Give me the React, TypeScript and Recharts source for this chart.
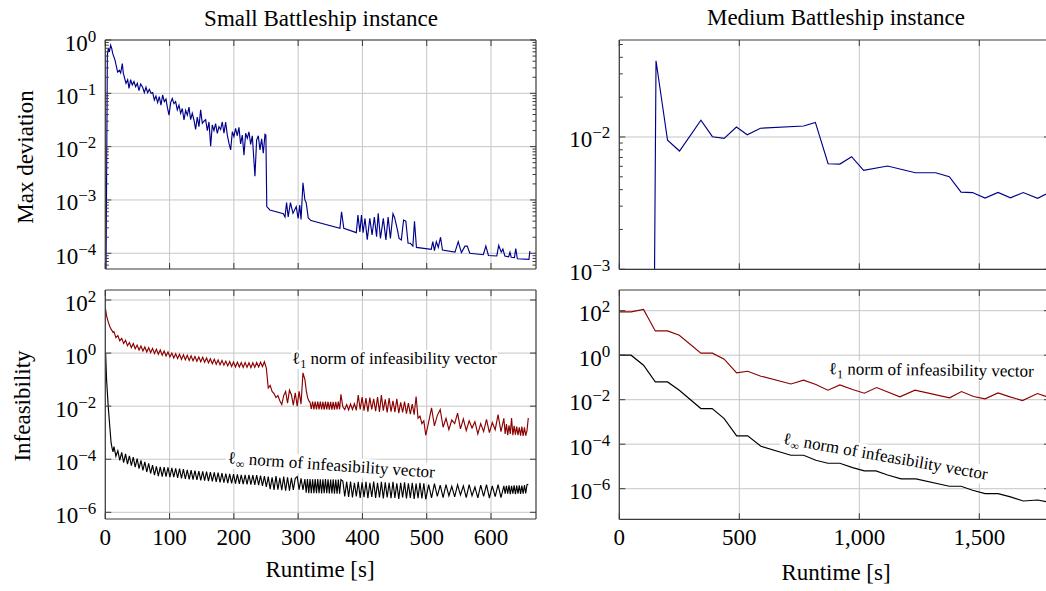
import { LineChart, Line, XAxis, YAxis, CartesianGrid } from 'recharts'

const FONT = '"Liberation Serif", "Times New Roman", "DejaVu Serif", serif'
const FRAME = '#3a3a3a'
const GRID = '#c6c6c6'
const BLUE = '#00008b'
const RED = '#8b0000'
const BLACK = '#000000'

// ---- small instance, max deviation ----
const smallDevTimes = [
  0.3, 3.2, 4.7, 6.3, 8.3, 9.9, 11.5, 15.1, 19.2, 21.8, 23.9, 26.5, 28, 32.2, 34.8, 36.9, 39.4, 42, 44.6, 47.2,
  49.8, 52.4, 55, 58.1, 60.7, 63.3, 65.9, 68.5, 71.1, 73.7, 76.3, 78.8, 81.4, 84, 86.6, 89.2, 91.8, 94.4, 96.5, 99.1,
  101.7, 104.2, 106.8, 109.4, 112, 114.6, 117.2, 119.8, 122.4, 125, 127.6, 130.2, 132.7, 135.3, 137.9, 140.5, 143.1, 145.7, 148.3, 150.9,
  153.5, 156.1, 158.7, 161.3, 163.9, 166.4, 169, 171.6, 174.2, 176.8, 179.4, 182, 184.6, 187.2, 189.8, 192.4, 195, 197.6, 200.1, 202.7,
  205.3, 207.9, 210.5, 213.1, 215.7, 218.3, 220.9, 223.5, 226.1, 228.7, 231.3, 232.8, 235.4, 238, 240.6, 243.2, 245.8, 248.4, 249.8,
  251.2, 256, 277, 279.5, 282, 284.5, 288, 292, 297, 300, 302.5, 304.5, 307.5, 310.5, 312.5, 315.7, 320, 365, 367.5, 371,
  390.5, 393, 396, 398.5, 401, 404, 407.5, 411.5, 415, 418.5, 422, 424.5, 428, 432.5, 436.5, 440, 443.5, 447.5, 450, 454,
  457, 460.5, 464, 467.5, 471, 474.5, 478.5, 481, 484, 507, 509.5, 512, 515, 518, 521.5, 524.5, 544, 549, 554, 559.5,
  563, 567, 588, 592, 596, 609, 612, 616, 618.5, 621.5, 627.5, 629.5, 631.5, 636.5, 638.5, 641, 659, 660.5,
]
const smallDevValues = [
  1e-6, 0.52, 0.7, 0.6, 0.8, 0.7, 0.56, 0.42, 0.25, 0.27, 0.24, 0.36, 0.24, 0.154, 0.18, 0.124, 0.18, 0.144, 0.166, 0.133,
  0.154, 0.112, 0.15, 0.13, 0.103, 0.13, 0.103, 0.119, 0.1, 0.103, 0.075, 0.089, 0.067, 0.087, 0.06, 0.093, 0.07, 0.078, 0.055, 0.039,
  0.067, 0.08, 0.064, 0.07, 0.049, 0.06, 0.042, 0.052, 0.0316, 0.048, 0.039, 0.055, 0.032, 0.042, 0.0316, 0.021, 0.036, 0.0237, 0.049, 0.0274,
  0.03, 0.032, 0.02, 0.029, 0.0102, 0.0255, 0.02, 0.027, 0.0178, 0.0237, 0.021, 0.029, 0.0178, 0.029, 0.0165, 0.0115, 0.0087, 0.019, 0.0154, 0.022,
  0.016, 0.023, 0.0112, 0.0165, 0.0069, 0.0178, 0.0144, 0.019, 0.011, 0.016, 0.0052, 0.0028, 0.0133, 0.016, 0.0087, 0.014, 0.0075, 0.017, 0.0165,
  7.5e-4, 6.5e-4, 5.5e-4, 4.8e-4, 8.9e-4, 4.8e-4, 8.9e-4, 5.6e-4, 7.5e-4, 4.5e-4, 8e-4, 4.3e-4, 2.1e-3, 1e-3, 8.9e-4, 4.6e-4, 4.1e-4, 2.94e-4, 6e-4, 2.94e-4,
  2.44e-4, 5.2e-4, 2.5e-4, 5.2e-4, 2.44e-4, 4.5e-4, 1.8e-4, 4.5e-4, 2.2e-4, 4.8e-4, 2.04e-4, 5.6e-4, 1.9e-4, 4.5e-4, 1.78e-4, 4.8e-4, 1.9e-4, 5.5e-4, 4.7e-4, 2.9e-4,
  1.9e-4, 1.78e-4, 4.2e-4, 4e-4, 1.54e-4, 1.54e-4, 1.36e-4, 4e-4, 1.29e-4, 1.18e-4, 1.65e-4, 1.12e-4, 1.65e-4, 1.29e-4, 2e-4, 1.15e-4, 1.05e-4, 1.65e-4, 1.03e-4, 1.36e-4,
  1.36e-4, 1e-4, 9.4e-5, 1.36e-4, 9.1e-5, 8.9e-5, 1.4e-4, 1.05e-4, 1.2e-4, 8.9e-5, 8.6e-5, 1.05e-4, 8.4e-5, 8.3e-5, 1.23e-4, 7.9e-5, 7.7e-5, 1.1e-4,
]

// ---- small instance, infeasibility (both norms logged at the same iterations) ----
const smallInfTimes = [
  0.5, 2, 4.5, 7, 9, 10.5, 12,
  13.5, 16.5, 19.5, 22.5, 25.5, 28.5, 31.5, 34.5, 37.5, 40.5,
  43.5, 46.5, 49.5, 52.5, 55.5, 58.5, 61.5, 64.5, 67.5, 70.5,
  73.5, 76.5, 79.5, 82.5, 85.5, 88.5, 91.5, 94.5, 97.5, 100.5,
  103.5, 106.5, 109.5, 112.5, 115.5, 118.5, 121.5, 124.5, 127.5, 130.5,
  133.5, 136.5, 139.5, 142.5, 145.5, 148.5, 151.5, 154.5, 157.5, 160.5,
  163.5, 166.5, 169.5, 172.5, 175.5, 178.5, 181.5, 184.5, 187.5, 190.5,
  193.5, 196.5, 199.5, 202.5, 205.5, 208.5, 211.5, 214.5, 217.5, 220.5,
  223.5, 226.5, 229.5, 232.5, 235.5, 238.5, 241.5, 244.5, 247.5,
  250.5, 253.5, 256.5, 259.5, 262.5, 265.5, 268.5, 271.5, 274.5, 277.5, 280.5,
  283.5, 286.5, 289.5, 292.5, 295.5, 298.5, 301.5, 304.5, 307.5, 310.5,
  312.5, 314.5, 316.5, 318.5, 320.5, 322.5, 324.5, 326.5, 328.5, 330.5, 332.5, 334.5, 336.5, 338.5,
  340.5, 342.5, 344.5, 346.5, 348.5, 350.5, 352.5, 354.5, 356.5, 358.5, 360.5, 362.5, 364.5, 366.5,
  369.5, 372.5, 375.5, 378.5, 381.5, 384.5, 387.5, 390.5, 393.5, 396.5, 399.5,
  402.5, 405.5, 408.5, 411.5, 414.5, 417.5, 420.5, 423.5, 426.5, 429.5, 432.5,
  435.5, 438.5, 441.5, 444.5, 447.5, 450.5, 453.5, 456.5, 459.5, 462.5, 465.5,
  468.5, 471.5, 474.5, 477.5, 480.5, 483.5, 486.5, 489.5, 492.5, 495.5, 498.5,
  503, 507.5, 512, 516.5, 521, 525.5, 530, 534.5, 539, 543.5, 548, 552.5, 557, 561.5,
  566, 570.5, 575, 579.5, 584, 588.5, 593, 597.5, 602, 606.5, 611, 615.5, 620,
  622, 624, 626, 628, 630, 632, 634, 636, 638, 640,
  642, 644, 646, 648, 650, 652, 654, 656, 658,
]
const smallL1Values = [
  45, 25, 15, 10, 8, 7, 6,
  6.4, 3.8, 4.6, 2.9, 3.6, 2.3, 3.0, 1.9, 2.5, 1.6,
  2.3, 1.45, 2.0, 1.3, 1.85, 1.2, 1.7, 1.1, 1.6, 1.05,
  1.5, 0.97, 1.4, 0.9, 1.3, 0.83, 1.2, 0.78, 1.1, 0.72,
  1.0, 0.65, 0.95, 0.62, 0.9, 0.58, 0.86, 0.56, 0.82, 0.53,
  0.79, 0.51, 0.75, 0.49, 0.71, 0.47, 0.69, 0.45, 0.65, 0.43,
  0.61, 0.4, 0.59, 0.38, 0.55, 0.36, 0.53, 0.35, 0.5, 0.33,
  0.48, 0.31, 0.46, 0.3, 0.45, 0.3, 0.44, 0.29, 0.44, 0.29,
  0.43, 0.28, 0.43, 0.29, 0.44, 0.3, 0.45, 0.31, 0.47,
  0.27, 0.048, 0.06, 0.036, 0.03, 0.021, 0.025, 0.016, 0.0115, 0.025, 0.036,
  0.013, 0.04, 0.027, 0.011, 0.032, 0.01, 0.036, 0.012, 0.18, 0.1,
  0.04, 0.022, 0.016, 0.014, 0.0078, 0.015, 0.0076, 0.0148, 0.0075, 0.015, 0.0076, 0.0147, 0.0075, 0.0146,
  0.0074, 0.0148, 0.0075, 0.0147, 0.0074, 0.0146, 0.0074, 0.0145, 0.0074, 0.0146, 0.0075, 0.0147, 0.0076, 0.028,
  0.0095, 0.0075, 0.0115, 0.0072, 0.012, 0.0075, 0.0125, 0.007, 0.026, 0.0075, 0.022,
  0.0068, 0.02, 0.0062, 0.021, 0.0075, 0.019, 0.0065, 0.022, 0.006, 0.026, 0.0068,
  0.018, 0.0058, 0.02, 0.0062, 0.016, 0.006, 0.019, 0.0055, 0.014, 0.0058, 0.015,
  0.0052, 0.013, 0.005, 0.012, 0.0048, 0.023, 0.0035, 0.0042, 0.0022, 0.0028, 0.0008,
  0.0025, 0.0087, 0.0018, 0.0045, 0.0074, 0.0016, 0.0035, 0.0013, 0.003, 0.0022, 0.0055, 0.0014, 0.0033, 0.0012,
  0.0028, 0.0015, 0.0026, 0.0009, 0.0022, 0.0011, 0.0032, 0.001, 0.0024, 0.0013, 0.0048, 0.0011, 0.0035,
  0.0009, 0.0021, 0.0008, 0.0019, 0.0009, 0.0036, 0.0008, 0.0018, 0.00085, 0.0017,
  0.0008, 0.0016, 0.00078, 0.0017, 0.00075, 0.0016, 0.00078, 0.0012, 0.0036,
]
const smallLinfValues = [
  1.0, 0.1, 0.01, 1.7e-3, 4.2e-4, 2.7e-4, 1.9e-4,
  3.0e-4, 1.3e-4, 2.1e-4, 9e-5, 1.8e-4, 7.5e-5, 1.6e-4, 6.6e-5, 1.35e-4, 5.8e-5,
  1.2e-4, 5e-5, 1.05e-4, 4.4e-5, 9e-5, 3.8e-5, 8e-5, 3.3e-5, 7e-5, 2.9e-5,
  6e-5, 2.5e-5, 5.4e-5, 2.3e-5, 5.2e-5, 2.2e-5, 5e-5, 2.2e-5, 4.9e-5, 2.1e-5,
  4.7e-5, 2.1e-5, 4.5e-5, 2e-5, 4.4e-5, 1.9e-5, 4.2e-5, 1.8e-5, 4e-5, 1.75e-5,
  3.9e-5, 1.7e-5, 3.7e-5, 1.65e-5, 3.6e-5, 1.6e-5, 3.5e-5, 1.55e-5, 3.4e-5, 1.5e-5,
  3.3e-5, 1.45e-5, 3.2e-5, 1.4e-5, 3.1e-5, 1.35e-5, 3.0e-5, 1.3e-5, 2.9e-5, 1.27e-5,
  2.8e-5, 1.24e-5, 2.75e-5, 1.2e-5, 2.7e-5, 1.17e-5, 2.6e-5, 1.15e-5, 2.6e-5, 1.13e-5,
  2.55e-5, 1.1e-5, 2.5e-5, 1.08e-5, 2.5e-5, 1.05e-5, 2.4e-5, 1.0e-5, 2.3e-5,
  9e-6, 2.2e-5, 7.5e-6, 2.1e-5, 7e-6, 2.3e-5, 7.2e-6, 2.0e-5, 6.8e-6, 2.2e-5, 6.5e-6,
  2.1e-5, 6.6e-6, 2.0e-5, 7e-6, 1.9e-5, 2.2e-5, 7.2e-6, 1.9e-5, 7e-6, 1.8e-5,
  5.5e-6, 1.8e-5, 5.3e-6, 1.8e-5, 5.2e-6, 1.75e-5, 5.3e-6, 1.8e-5, 5.2e-6, 1.78e-5, 5.2e-6, 1.75e-5, 5.1e-6, 1.76e-5,
  5.2e-6, 1.8e-5, 5.2e-6, 1.75e-5, 5.1e-6, 1.72e-5, 5.1e-6, 1.75e-5, 5e-6, 1.7e-5, 5e-6, 1.72e-5, 5e-6, 1.7e-5,
  1.5e-5, 4e-6, 1.4e-5, 3.8e-6, 1.45e-5, 3.6e-6, 1.3e-5, 4e-6, 1.4e-5, 3.5e-6, 1.35e-5,
  3.7e-6, 1.4e-5, 3.4e-6, 1.3e-5, 3.8e-6, 1.45e-5, 3.5e-6, 1.3e-5, 3.6e-6, 1.4e-5, 3.3e-6,
  1.35e-5, 3.6e-6, 1.3e-5, 3.4e-6, 1.4e-5, 3.5e-6, 1.25e-5, 3.2e-6, 1.3e-5, 3.6e-6, 1.35e-5,
  3.3e-6, 1.25e-5, 3.5e-6, 1.3e-5, 3.2e-6, 1.2e-5, 3.4e-6, 1.3e-5, 3.3e-6, 1.25e-5, 3.1e-6,
  1.1e-5, 3.5e-6, 1.2e-5, 4e-6, 1.05e-5, 3.6e-6, 1.1e-5, 4.2e-6, 9.5e-6, 3.8e-6, 1.1e-5, 4.5e-6, 1.0e-5, 3.6e-6,
  1.1e-5, 4.2e-6, 9e-6, 3.5e-6, 1.05e-5, 4e-6, 1.1e-5, 3.4e-6, 1.0e-5, 3.9e-6, 1.1e-5, 3.6e-6, 1.0e-5,
  5e-6, 1e-5, 5e-6, 1.05e-5, 4.8e-6, 1e-5, 5e-6, 1.05e-5, 4.8e-6, 1.02e-5,
  5e-6, 1.05e-5, 4.9e-6, 1.02e-5, 5e-6, 1.05e-5, 5.2e-6, 1.1e-5, 1.15e-5,
]

// ---- medium instance ----
const medDevTimes = [143, 153, 201, 251, 340, 388, 437, 488, 533, 588, 768, 817, 870, 919, 968, 1018, 1118, 1233, 1318, 1375, 1424, 1472, 1524, 1578, 1630, 1683, 1743, 1778]
const medDevValues = [1e-4, 0.0377, 0.00944, 0.00783, 0.0134, 0.01005, 0.00977, 0.0119, 0.0104, 0.01164, 0.0121, 0.0129, 0.00628, 0.00624, 0.0071, 0.0056, 0.00603, 0.00537, 0.00537, 0.00501, 0.00383, 0.0038, 0.00345, 0.00381, 0.00347, 0.0038, 0.00344, 0.0037]

const medL1Times = [0, 49, 101, 150, 201, 250, 340, 388, 437, 489, 535, 590, 715, 768, 819, 869, 919, 972, 1021, 1072, 1169, 1232, 1376, 1426, 1476, 1524, 1578, 1628, 1680, 1742, 1778]
const medL1Values = [88, 88, 113, 12.3, 12.3, 7.9, 1.23, 1.23, 0.66, 0.16, 0.19, 0.114, 0.051, 0.075, 0.048, 0.0267, 0.0464, 0.0287, 0.0196, 0.0352, 0.0134, 0.0267, 0.0121, 0.0233, 0.014, 0.0109, 0.0203, 0.0134, 0.0091, 0.0189, 0.014]

const medLinfTimes = [0, 49, 101, 150, 201, 250, 340, 387, 437, 489, 535, 590, 715, 768, 819, 869, 919, 972, 1021, 1069, 1118, 1174, 1236, 1375, 1424, 1472, 1524, 1578, 1630, 1683, 1743, 1780]
const medLinfValues = [1.0, 1.0, 0.355, 0.063, 0.063, 0.0267, 0.004, 0.004, 0.00142, 2.37e-4, 2.37e-4, 8.1e-5, 3.2e-5, 3.2e-5, 1.9e-5, 1.4e-5, 1.4e-5, 8.9e-6, 6.3e-6, 6.3e-6, 4.1e-6, 2.76e-6, 2.76e-6, 1.29e-6, 1.29e-6, 8.5e-7, 6.0e-7, 6.0e-7, 4.3e-7, 2.8e-7, 3.1e-7, 2.6e-7]

// ---- ticks ----
const smallXTicks = [0, 100, 200, 300, 400, 500, 600]
const mediumXTicks = [0, 500, 1000, 1500]
const smallDevTicks = [
  6e-5, 7e-5, 8e-5, 9e-5, 1e-4, 2e-4, 3e-4, 4e-4, 5e-4, 6e-4, 7e-4, 8e-4, 9e-4,
  1e-3, 2e-3, 3e-3, 4e-3, 5e-3, 6e-3, 7e-3, 8e-3, 9e-3, 1e-2, 2e-2, 3e-2, 4e-2, 5e-2, 6e-2, 7e-2, 8e-2, 9e-2,
  0.1, 0.2, 0.3, 0.4, 0.5, 0.6, 0.7, 0.8, 0.9, 1,
]
const smallDevGrid = [1e-4, 1e-3, 1e-2, 1e-1, 1]
const medDevTicks = [1e-3, 2e-3, 3e-3, 4e-3, 5e-3, 6e-3, 7e-3, 8e-3, 9e-3, 1e-2, 2e-2, 3e-2, 4e-2, 5e-2]
const medDevGrid = [1e-3, 1e-2]
const infTicks = [1e-6, 1e-4, 1e-2, 1, 100]

const zip = (ts: number[], vs: number[]) => ts.map((t, i) => ({ t, v: vs[i] }))
const smallDevData = zip(smallDevTimes, smallDevValues)
const smallInfData = smallInfTimes.map((t, i) => ({ t, l1: smallL1Values[i], linf: smallLinfValues[i] }))
const medDevData = zip(medDevTimes, medDevValues)
const medL1Data = zip(medL1Times, medL1Values)
const medLinfData = zip(medLinfTimes, medLinfValues)

const isDecade = (v: number) => Math.abs(Math.log10(v) - Math.round(Math.log10(v))) < 1e-6
const expLabel = (v: number) => {
  const e = Math.round(Math.log10(v))
  return (e < 0 ? '\u2212' : '') + Math.abs(e)
}

function LeftTick({ x, y, payload }: any) {
  const major = isDecade(payload.value)
  return (
    <g>
      <line x1={x} x2={x + (major ? 6 : 3.5)} y1={y} y2={y} stroke={FRAME} strokeWidth={1} />
      {major && (
        <text x={x - 9} y={y + 10.5} textAnchor="end" fontFamily={FONT} fontSize={23} fill="#000">
          10<tspan dy={-9} fontSize={17}>{expLabel(payload.value)}</tspan>
        </text>
      )}
    </g>
  )
}

function RightTick({ x, y, payload }: any) {
  const major = isDecade(payload.value)
  return <line x1={x} x2={x - (major ? 6 : 3.5)} y1={y} y2={y} stroke={FRAME} strokeWidth={1} />
}

function BottomTick({ x, y, payload, labels }: any) {
  return (
    <g>
      <line x1={x} x2={x} y1={y} y2={y - 6} stroke={FRAME} strokeWidth={1} />
      {labels && (
        <text x={x} y={y + 26} textAnchor="middle" fontFamily={FONT} fontSize={23} fill="#000">
          {payload.value.toLocaleString('en-US')}
        </text>
      )}
    </g>
  )
}

function TopTick({ x, y }: any) {
  return <line x1={x} x2={x} y1={y} y2={y + 6} stroke={FRAME} strokeWidth={1} />
}

type PanelProps = {
  width: number
  left: number
  top: number
  right: number
  bottom: number
  xDomain: [number, number]
  xTicks: number[]
  xLabels: boolean
  yDomain: [number, number]
  yTicks: number[]
  yGrid: number[]
  children: React.ReactNode
}

// axes of size 0 are not drawn by recharts, so the frame axes get 1px boxes
function Panel({ width, left, top, right, bottom, xDomain, xTicks, xLabels, yDomain, yTicks, yGrid, children }: PanelProps) {
  const axisLine = { stroke: FRAME, strokeWidth: 1.2 }
  return (
    <div style={{ position: 'absolute', left: 0, top: 0 }}>
      <LineChart width={width} height={591} margin={{ top: top - 1, right: width - right - 1, bottom: 591 - bottom - 1, left: 0 }}>
        <CartesianGrid xAxisId="b" yAxisId="l" stroke={GRID} strokeWidth={1} verticalValues={xTicks} horizontalValues={yGrid} />
        <XAxis
          xAxisId="b" type="number" dataKey="t" domain={xDomain} allowDataOverflow ticks={xTicks} interval={0}
          height={1} tickSize={0} tickMargin={0} tickLine={false} axisLine={axisLine}
          tick={(p: any) => <BottomTick {...p} labels={xLabels} />}
        />
        <XAxis
          xAxisId="t" orientation="top" type="number" dataKey="t" domain={xDomain} allowDataOverflow ticks={xTicks} interval={0}
          height={1} tickSize={0} tickMargin={0} tickLine={false} axisLine={axisLine}
          tick={(p: any) => <TopTick {...p} />}
        />
        <YAxis
          yAxisId="l" type="number" scale="log" domain={yDomain} allowDataOverflow ticks={yTicks} interval={0}
          width={left} tickSize={0} tickMargin={0} tickLine={false} axisLine={axisLine}
          tick={(p: any) => <LeftTick {...p} />}
        />
        <YAxis
          yAxisId="r" orientation="right" type="number" scale="log" domain={yDomain} allowDataOverflow ticks={yTicks} interval={0}
          width={1} tickSize={0} tickMargin={0} tickLine={false} axisLine={axisLine}
          tick={(p: any) => <RightTick {...p} />}
        />
        {children}
      </LineChart>
    </div>
  )
}

function Note({ cx, cy, angle, width, sub }: { cx: number; cy: number; angle: number; width: number; sub: string }) {
  return (
    <g transform={`translate(${cx},${cy}) rotate(${angle})`}>
      <rect x={-width / 2} y={-14} width={width} height={19} fill="#fff" />
      <text x={0} y={0} textAnchor="middle" fontFamily={FONT} fontSize={17} fill="#000">
        {'\u2113'}
        <tspan dy={4} fontSize={12}>{sub}</tspan>
        <tspan dy={-4}>{'\u00a0norm of infeasibility vector'}</tspan>
      </text>
    </g>
  )
}

export default function App() {
  const smallX: [number, number] = [0, 670]
  const medX: [number, number] = [0, 1794.6]
  const lineProps = { xAxisId: 'b', yAxisId: 'l', dataKey: 'v', dot: false, isAnimationActive: false, strokeWidth: 1.15 }
  return (
    <div style={{ position: 'fixed', left: 0, top: 0, width: 1046, height: 591, overflow: 'hidden', background: '#fff' }}>
      <Panel width={1046} left={105.3} top={40} right={536} bottom={269} xDomain={smallX} xTicks={smallXTicks} xLabels={false}
        yDomain={[Math.pow(10, -4.295), 1]} yTicks={smallDevTicks} yGrid={smallDevGrid}>
        <Line {...lineProps} data={smallDevData} stroke={BLUE} />
      </Panel>
      <Panel width={1046} left={105.3} top={290} right={536} bottom={519} xDomain={smallX} xTicks={smallXTicks} xLabels
        yDomain={[Math.pow(10, -6.252), Math.pow(10, 2.377)]} yTicks={infTicks} yGrid={infTicks}>
        <Line {...lineProps} data={smallInfData} dataKey="l1" stroke={RED} />
        <Line {...lineProps} data={smallInfData} dataKey="linf" stroke={BLACK} />
      </Panel>
      <Panel width={1060} left={619.3} top={40} right={1050} bottom={269.3} xDomain={medX} xTicks={mediumXTicks} xLabels={false}
        yDomain={[1e-3, Math.pow(10, -1.267)]} yTicks={medDevTicks} yGrid={medDevGrid}>
        <Line {...lineProps} data={medDevData} stroke={BLUE} />
      </Panel>
      <Panel width={1060} left={619.3} top={290} right={1050} bottom={519.3} xDomain={medX} xTicks={mediumXTicks} xLabels
        yDomain={[Math.pow(10, -7.375), Math.pow(10, 2.93)]} yTicks={infTicks} yGrid={infTicks}>
        <Line {...lineProps} data={medL1Data} stroke={RED} />
        <Line {...lineProps} data={medLinfData} stroke={BLACK} />
      </Panel>

      <svg width={1046} height={591} style={{ position: 'absolute', left: 0, top: 0, pointerEvents: 'none' }}>
        <g fontFamily={FONT} fontSize={23} fill="#000" textAnchor="middle">
          <text x={321} y={26}>Small Battleship instance</text>
          <text x={836} y={25}>Medium Battleship instance</text>
          <text transform="translate(33,157) rotate(-90)">Max deviation</text>
          <text transform="translate(30,406) rotate(-90)">Infeasibility</text>
          <text x={320} y={577}>Runtime [s]</text>
          <text x={836} y={580}>Runtime [s]</text>
        </g>
        <Note cx={394.5} cy={364} angle={0} width={206} sub="1" />
        <Note cx={331} cy={470.5} angle={4} width={212} sub={'\u221e'} />
        <Note cx={931.3} cy={375.5} angle={0.7} width={206} sub="1" />
        <Note cx={884.5} cy={461.7} angle={10} width={212} sub={'\u221e'} />
      </svg>
    </div>
  )
}
